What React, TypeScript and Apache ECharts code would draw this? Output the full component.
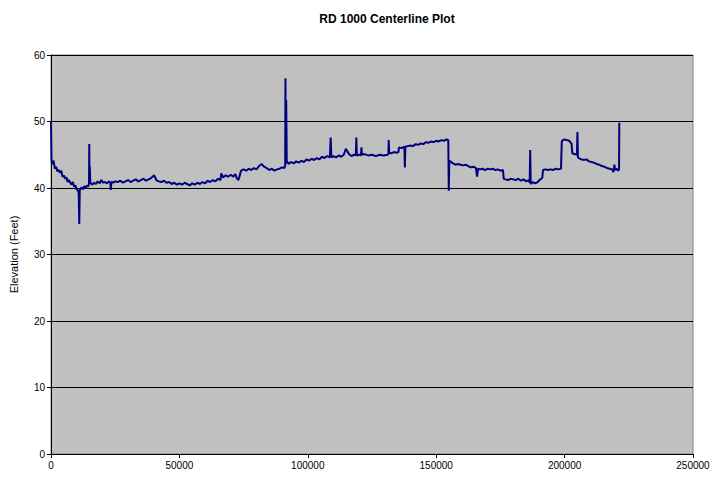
import React, { useEffect, useRef } from "react";
import * as echarts from "echarts";

const stations: number[] = [
  0, 200, 400, 1000, 1500, 2000, 2500, 3000, 3500, 4000, 4500, 5000, 5500, 6000, 6500, 7000, 7500, 8000, 8500, 9000,
  9500, 10000, 10500, 10800, 11000, 11200, 11600, 12000, 12500, 13000, 13500, 14000, 14500, 14800, 14900, 15000, 15100,
  15300, 16000, 16800, 17500, 18200, 19000, 19600, 20300, 21000, 21800, 22500, 23100, 23300, 23500, 24200, 25000, 26000,
  27000, 28000, 29000, 30000, 31000, 32000, 33000, 34000, 35000, 36000, 37000, 38000, 39000, 40200, 41000, 42000, 43000,
  44000, 45000, 46000, 47000, 48000, 49000, 50000, 51000, 52000, 53000, 54000, 55000, 56000, 57000, 58000, 59000, 60000,
  61000, 62000, 63000, 64000, 65000, 66000, 66300, 67000, 68000, 69000, 70000, 71000, 71800, 72300, 73000, 73500, 74000,
  75000, 76000, 77000, 78000, 79000, 80000, 81000, 82000, 83000, 84000, 85000, 86000, 87000, 88000, 89000, 90000, 90800,
  91200, 91300, 91400, 91600, 91800, 92000, 92500, 93500, 94500, 95500, 96500, 97500, 98500, 99500, 100500, 101500,
  102500, 103500, 104500, 105500, 106500, 107500, 108600, 108900, 109200, 110000, 111000, 112000, 113000, 114000, 114800,
  115300, 116000, 117000, 118000, 118700, 118900, 119100, 120000, 120700, 120900, 121100, 122000, 123500, 125000, 126500,
  128000, 129500, 131000, 131400, 131500, 131700, 132500, 133500, 134500, 135300, 135500, 136500, 137600, 137800, 138000,
  139000, 140000, 141000, 142000, 143000, 144000, 145000, 146000, 147000, 148000, 149000, 150000, 151000, 152000, 153000,
  154000, 154700, 154900, 155100, 155500, 156500, 157500, 158500, 159500, 160500, 161500, 162500, 163500, 164500, 165500,
  165900, 166300, 167000, 168000, 169000, 170000, 171000, 172000, 173000, 174000, 175000, 176000, 176300, 177000, 178000,
  179000, 180000, 181000, 182000, 183000, 184000, 185000, 186000, 186400, 186600, 186800, 187500, 188500, 189500, 190500,
  191300, 191600, 192500, 193500, 194500, 195500, 196500, 197500, 198600, 198900, 199300, 200000, 201000, 201800, 202400,
  202700, 203000, 204000, 204800, 205000, 205200, 205500, 206500, 207500, 208500, 209500, 210500, 211500, 212500, 213500,
  214500, 215500, 216500, 217500, 218500, 219000, 219400, 219700, 220200, 220800, 221200, 221300,
];

const elevations: number[] = [
  50, 44.3, 43.6, 44.1, 42.9, 43.2, 42.5, 42.7, 42.3, 42.6, 41.7, 41.9, 41.4, 41.6, 40.9, 41.2, 40.8, 40.5, 40.9, 40.2,
  40.4, 39.8, 39.6, 39.2, 34.6, 39.7, 39.9, 40.1, 39.8, 40.3, 40.0, 40.4, 40.2, 40.6, 46.6, 41.0, 43.3,
  40.8, 40.5, 40.8, 40.6, 41.0, 40.7, 41.2, 40.8, 40.9, 40.7, 41.0, 40.8, 39.7, 40.9, 40.8, 41.0, 40.9,
  41.1, 40.8, 41.0, 41.2, 40.9, 41.1, 41.3, 41.0, 41.2, 41.4, 41.1, 41.3, 41.5, 41.9, 41.2, 41.0, 40.9,
  41.1, 40.8, 40.9, 40.6, 40.8, 40.5, 40.7, 40.5, 40.8, 40.6, 40.4, 40.7, 40.5, 40.8, 40.6, 40.9, 40.7,
  41.1, 40.9, 41.2, 41.0, 41.4, 41.2, 42.2, 41.6, 41.9, 41.7, 42.0, 41.7, 42.1, 41.5, 41.2, 41.9, 42.6,
  42.8, 42.6, 42.9, 42.7, 43.0, 42.8, 43.3, 43.6, 43.2, 43.0, 42.7, 42.9, 42.6, 42.8, 42.9, 43.1, 43.0,
  43.3, 56.5, 43.6, 53.2, 43.8, 44.0, 43.6, 43.9, 43.7, 44.0, 43.8, 44.1, 43.9, 44.3, 44.1, 44.4,
  44.2, 44.5, 44.3, 44.7, 44.5, 44.8, 44.6, 47.6, 44.6, 44.8, 44.6, 44.9, 44.7, 45.0, 45.9,
  45.6, 45.1, 44.8, 45.0, 44.9, 47.6, 44.9, 45.0, 44.9, 46.1, 45.0, 45.1, 44.9, 45.0, 44.8,
  45.0, 44.9, 45.0, 45.1, 47.2, 45.3, 45.2, 45.4, 45.3, 45.4, 46.1, 46.0, 46.2, 43.1, 46.2,
  46.3, 46.4, 46.3, 46.6, 46.5, 46.7, 46.6, 46.9, 46.8, 47.0, 46.9, 47.1, 47.0, 47.2, 47.1,
  47.3, 47.2, 39.6, 44.1, 44.0, 43.7, 43.5, 43.6, 43.5, 43.4, 43.5, 43.3, 43.1, 43.2, 43.0,
  41.7, 42.9, 42.8, 42.9, 42.7, 42.9, 42.8, 42.9, 42.7, 42.8, 42.6, 42.7, 41.4, 41.3, 41.2,
  41.4, 41.3, 41.2, 41.4, 41.1, 41.3, 41.0, 41.2, 40.8, 45.7, 40.6, 40.9, 40.7, 40.9, 41.3,
  41.5, 42.7, 42.8, 42.7, 42.8, 42.7, 42.9, 42.8, 42.9, 47.0, 47.2, 47.3, 47.2, 47.1, 46.8,
  46.7, 45.2, 45.1, 45.0, 48.4, 44.6, 44.5, 44.3, 44.2, 44.3, 44.0, 43.9, 43.8, 43.6, 43.5,
  43.3, 43.2, 43.0, 42.9, 42.8, 42.4, 43.5, 42.7, 42.9, 42.6, 42.8, 49.8,
];

const yTicks: number[] = [0, 10, 20, 30, 40, 50, 60];
const xTicks: number[] = [0, 50000, 100000, 150000, 200000, 250000];

const FONT = "Liberation Sans, Arial, sans-serif";

export default function App() {
  const ref = useRef<HTMLDivElement>(null);
  useEffect(() => {
    document.body.style.margin = "0";
    const chart = echarts.init(ref.current!, null, { renderer: "svg" });
    const data = stations.map((s, i) => [s, elevations[i]]);
    chart.setOption({
      animation: false,
      backgroundColor: "#ffffff",
      title: {
        text: "RD 1000 Centerline Plot",
        left: 382,
        top: 8,
        textAlign: "center",
        textStyle: { fontFamily: FONT, fontSize: 12, fontWeight: "bold", color: "#000" },
      },
      grid: {
        left: 50,
        right: 25,
        top: 55,
        bottom: 24,
        show: true,
        backgroundColor: "#c0c0c0",
        borderColor: "#808080",
        borderWidth: 1,
      },
      xAxis: {
        type: "value",
        min: xTicks[0],
        max: xTicks[xTicks.length - 1],
        interval: 50000,
        axisLine: { show: true, lineStyle: { color: "#000", width: 1 } },
        axisTick: { show: true, length: 4, lineStyle: { color: "#000" } },
        axisLabel: { fontFamily: FONT, fontSize: 10, color: "#000", margin: 6, formatter: (v: number) => String(v) },
        splitLine: { show: false },
      },
      yAxis: {
        type: "value",
        min: yTicks[0],
        max: yTicks[yTicks.length - 1],
        interval: 10,
        name: "Elevation (Feet)",
        nameLocation: "middle",
        nameGap: 32,
        nameTextStyle: { fontFamily: FONT, fontSize: 11, color: "#000" },
        axisLine: { show: true, lineStyle: { color: "#000", width: 1 } },
        axisTick: { show: true, length: 4, lineStyle: { color: "#000" } },
        axisLabel: { fontFamily: FONT, fontSize: 10, color: "#000", margin: 6 },
        splitLine: { show: true, lineStyle: { color: "#000", width: 1 } },
      },
      series: [
        {
          type: "line",
          data,
          showSymbol: false,
          symbol: "none",
          lineStyle: { color: "#00007f", width: 2 },
        },
      ],
    });
    return () => chart.dispose();
  }, []);
  return <div ref={ref} style={{ width: 718, height: 478 }} />;
}
